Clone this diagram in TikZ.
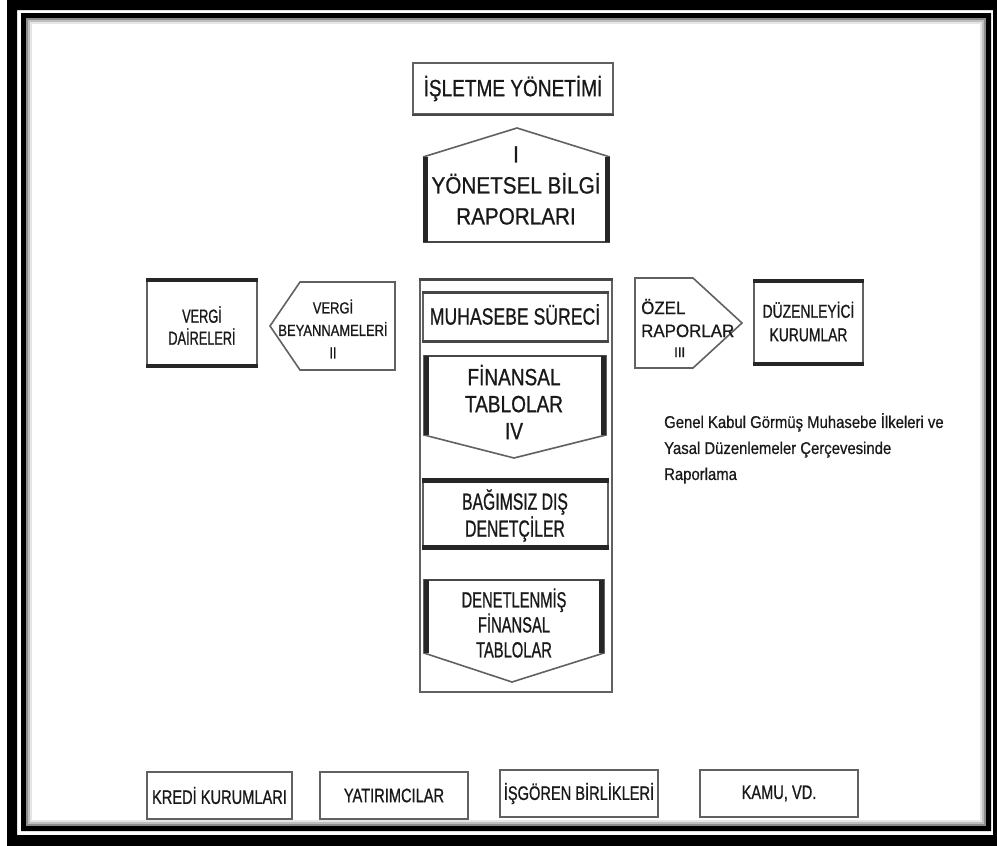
\documentclass[tikz,border=0pt]{standalone}
\usepackage{fontspec}
\setmainfont{Liberation Sans}
\newfontfamily\nrwA{Liberation Sans}[FakeStretch=0.67,FakeBold=0.8]
\newfontfamily\nrwB{Liberation Sans}[FakeStretch=0.75,FakeBold=0.8]
\newfontfamily\nrwC{Liberation Sans}[FakeStretch=0.81,FakeBold=0.8]
\newfontfamily\nrwD{Liberation Sans}[FakeStretch=0.88,FakeBold=0.8]
\newfontfamily\nrwE{Liberation Sans}[FakeStretch=0.94,FakeBold=0.8]
\newfontfamily\notefont{Liberation Sans}[FakeStretch=0.875,FakeBold=0.6]
\begin{document}
\begin{tikzpicture}[x=1pt,y=-1pt,
  outline/.style={draw=black!62, line width=1.6pt},
  medium/.style={draw=black!72, line width=2.6pt},
  heavy/.style={draw=black!85, line width=4.5pt},
  box/.style={outline, fill=white, inner sep=0pt},
  lbl/.style={inner sep=0pt, align=center, text=black!90},
]
\useasboundingbox (0,0) rectangle (997,846);
\fill[white] (0,0) rectangle (997,846);

% double black frame with a soft inner shadow
\fill[black,even odd rule] (7,0) rectangle (997,846) (17,10) rectangle (993,835);
\fill[black,even odd rule] (21,13) rectangle (991,831) (26,18) rectangle (986,826);
\draw[black!45,line width=2pt] (27,19) rectangle (985,825);
\draw[black!25,line width=2pt] (29,21) rectangle (983,823);
\draw[black!10,line width=2pt] (31,23) rectangle (981,821);

% management
\node[box, minimum width=200pt, minimum height=51pt] (mgmt) at (513,88.5) {};
\draw[medium] (mgmt.south west) -- (mgmt.south east);
\node[lbl, font=\nrwC\fontsize{23.5}{26}\selectfont] (mgmttxt) at (513,88.5) {İŞLETME YÖNETİMİ};

% I: management reports (house shape)
\coordinate (h1) at (423,242);
\coordinate (h2) at (423,157);
\coordinate (h3) at (517,128);
\coordinate (h4) at (610,157);
\coordinate (h5) at (610,242);
\fill[white] (h1) -- (h2) -- (h3) -- (h4) -- (h5) -- cycle;
\draw[outline] (h2) -- (h3) -- (h4);
\draw[medium] (h1) -- (h5);
\draw[heavy] ([xshift=2.5pt]h1) -- ([xshift=2.5pt]h2);
\draw[heavy] ([xshift=-2.5pt]h5) -- ([xshift=-2.5pt]h4);
\node[lbl, font=\nrwD\fontsize{23.5}{31}\selectfont] (mgmtrep) at (516,185.5) {I\\YÖNETSEL BİLGİ\\RAPORLARI};

% tax offices
\node[box, minimum width=110pt, minimum height=88pt] (taxoff) at (202,323) {};
\draw[heavy] ([yshift=-2pt]taxoff.north west) -- ([yshift=-2pt]taxoff.north east);
\draw[heavy] ([yshift=2pt]taxoff.south west) -- ([yshift=2pt]taxoff.south east);
\node[lbl, font=\nrwA\fontsize{19}{22}\selectfont] (taxofftxt) at (202,325.5) {VERGİ\\DAİRELERİ};

% II: tax returns (arrow to the left)
\coordinate (t1) at (270,326);
\coordinate (t2) at (300,282);
\coordinate (t3) at (395,282);
\coordinate (t4) at (395,370);
\coordinate (t5) at (300,370);
\draw[outline, fill=white] (t1) -- (t2) -- (t3) -- (t4) -- (t5) -- cycle;
\node[lbl, font=\nrwC\fontsize{16}{22.5}\selectfont] (taxret) at (333,329) {VERGİ\\BEYANNAMELERİ\\II};

% accounting process column
\node[box, minimum width=192pt, minimum height=412pt] (column) at (516,486) {};
\draw[medium] (column.north west) -- (column.north east);

\node[box, minimum width=185pt, minimum height=47pt] (accproc) at (515.5,317) {};
\draw[medium] (accproc.north west) -- (accproc.north east);
\draw[medium] (accproc.south west) -- (accproc.south east);
\node[lbl, font=\nrwB\fontsize{23.5}{26}\selectfont] (accproctxt) at (515,314.5) {MUHASEBE SÜRECİ};

% IV: financial statements (arrow down)
\coordinate (f1) at (424,356);
\coordinate (f2) at (606,356);
\coordinate (f3) at (606,435);
\coordinate (f4) at (514,458);
\coordinate (f5) at (424,435);
\draw[outline, fill=white] (f1) -- (f2) -- (f3) -- (f4) -- (f5) -- cycle;
\draw[medium] (f1) -- (f2);
\draw[heavy] ([xshift=2.5pt]f1) -- ([xshift=2.5pt]f5);
\draw[heavy] ([xshift=-2.5pt]f2) -- ([xshift=-2.5pt]f3);
\node[lbl, font=\nrwC\fontsize{23.5}{27}\selectfont] (fintab) at (514,402) {FİNANSAL\\TABLOLAR\\IV};

% independent auditors
\node[box, minimum width=185pt, minimum height=68pt] (auditors) at (515.5,514) {};
\draw[heavy] ([yshift=-1.5pt]auditors.north west) -- ([yshift=-1.5pt]auditors.north east);
\draw[heavy] ([yshift=1.5pt]auditors.south west) -- ([yshift=1.5pt]auditors.south east);
\node[lbl, font=\nrwA\fontsize{23.5}{27}\selectfont] (auditorstxt) at (515,515.5) {BAĞIMSIZ DIŞ\\DENETÇİLER};

% audited financial statements (arrow down)
\coordinate (d1) at (424,580);
\coordinate (d2) at (604,580);
\coordinate (d3) at (604,653);
\coordinate (d4) at (512,682);
\coordinate (d5) at (424,653);
\draw[outline, fill=white] (d1) -- (d2) -- (d3) -- (d4) -- (d5) -- cycle;
\draw[medium] (d1) -- (d2);
\draw[heavy] ([xshift=2.5pt]d1) -- ([xshift=2.5pt]d5);
\draw[heavy] ([xshift=-2.5pt]d2) -- ([xshift=-2.5pt]d3);
\node[lbl, font=\nrwA\fontsize{22}{25}\selectfont] (audfin) at (514,623) {DENETLENMİŞ\\FİNANSAL\\TABLOLAR};

% III: special reports (arrow to the right)
\coordinate (s1) at (635,278);
\coordinate (s2) at (693,278);
\coordinate (s3) at (742,323);
\coordinate (s4) at (693,368);
\coordinate (s5) at (635,368);
\draw[outline, fill=white] (s1) -- (s2) -- (s3) -- (s4) -- (s5) -- cycle;
\node[lbl, align=left, anchor=west, font=\nrwE\fontsize{18}{23}\selectfont] (special) at (641,328)
  {ÖZEL\\RAPORLAR\\[-3pt]\hspace*{33pt}{\fontsize{14}{14}\selectfont III}};

% regulatory bodies
\node[box, minimum width=109pt, minimum height=85pt] (regul) at (808.5,322.5) {};
\draw[heavy] ([yshift=-2pt]regul.north west) -- ([yshift=-2pt]regul.north east);
\draw[heavy] ([yshift=2pt]regul.south west) -- ([yshift=2pt]regul.south east);
\node[lbl, font=\nrwB\fontsize{18.5}{23.5}\selectfont] (regultxt) at (808.5,321.5) {DÜZENLEYİCİ\\KURUMLAR};

% note on the reporting framework
\node[lbl, align=left, anchor=north west, font=\notefont\fontsize{17}{26}\selectfont] (note) at (664,413)
  {Genel Kabul Görmüş Muhasebe İlkeleri ve\\Yasal Düzenlemeler Çerçevesinde\\Raporlama};

% users of the statements
\tikzset{user/.style={box, minimum height=47pt, text=black!90, font=\nrwB\fontsize{19.5}{22}\selectfont}}
\node[user, minimum width=145pt] (credit) at (219.5,795.5) {KREDİ KURUMLARI};
\node[user, minimum width=148pt] (invest) at (394,795.5) {YATIRIMCILAR};
\node[user, minimum width=158pt] (unions) at (579,793.5) {İŞGÖREN BİRLİKLERİ};
\node[user, minimum width=158pt] (public) at (779,793.5) {KAMU, VD.};
\end{tikzpicture}
\end{document}
